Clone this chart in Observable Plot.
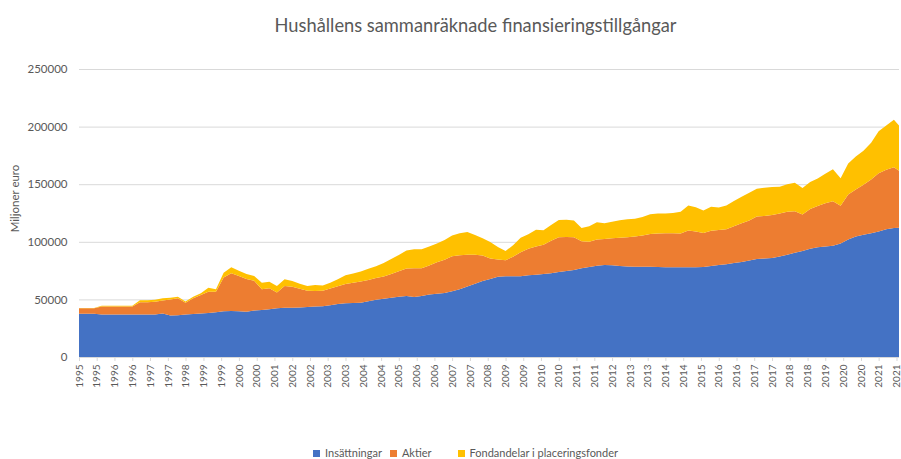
<!DOCTYPE html>
<html>
<head>
<meta charset="utf-8">
<script src="https://cdn.jsdelivr.net/npm/d3@7"></script>
<script src="https://cdn.jsdelivr.net/npm/@observablehq/plot@0.6"></script>
<style>
  html, body { margin: 0; padding: 0; background: #fff; }
  #wrap { width: 901px; height: 459px; overflow: hidden; font-family: Lato, "Open Sans", sans-serif; color: #595959; }
  #title { height: 50px; line-height: 50px; text-align: center; font-size: 18.3px; padding-left: 50px; box-sizing: border-box; }
  #legend { display: flex; justify-content: center; align-items: center; font-size: 11px; padding-top: 56px; padding-left: 30px; line-height: 14px; }
  #legend .item { display: flex; align-items: center; margin: 0 4px; }
  #legend .sw { width: 7px; height: 7px; margin-right: 5px; display: inline-block; }
  svg { display: block; }
</style>
</head>
<body>
<div id="wrap">
  <div id="title">Hushållens sammanräknade finansieringstillgångar</div>
  <div id="chart"></div>
  <div id="legend"></div>
</div>
<script>
const seriesNames = ["Insättningar", "Aktier", "Fondandelar i placeringsfonder"];
const seriesColors = ["#4472C4", "#ED7D31", "#FFC000"];
const yTicks = [0, 50000, 100000, 150000, 200000, 250000];
const yLabel = "Miljoner euro";

// Quarterly observations (Jan, Apr, Jul, Oct) 1995–2021, plus Dec 2021
const insattningar = [
  37500, 37500, 37500, 37000,
  37000, 37000, 37000, 37000,
  37000, 37000, 37000, 37800,
  36000, 36200, 36800, 37300,
  37800, 38200, 38800, 39800,
  40000, 39800, 39300, 40300,
  40800, 41500, 42300, 42700,
  42800, 43000, 43500, 43800,
  44000, 45000, 46000, 46700,
  46800, 47000, 48500, 49800,
  50500, 51500, 52200, 53000,
  52000, 53000, 54200, 55000,
  55600, 57000, 58800, 61300,
  63500, 66000, 67800, 69700,
  70000, 70000, 70000, 71000,
  71500, 72000, 72600, 73800,
  74700, 75600, 77000, 78200,
  79200, 79800, 79600, 79000,
  78600, 78400, 78300, 78300,
  78100, 77800, 77800, 77800,
  77800, 78000, 78200, 79000,
  79800, 80500, 81500, 82500,
  83800, 85000, 85500, 86000,
  87300, 88800, 90500, 92000,
  94000, 95300, 96000, 96600,
  98500, 102000, 104500, 106200,
  107500, 109000, 111000, 112000, 112200
];
const aktier = [
  4900, 4900, 4900, 6800,
  6800, 6800, 6800, 6800,
  10600, 10600, 11000, 11200,
  14000, 14800, 10400, 13700,
  16100, 18500, 17900, 29300,
  32600, 30500, 28400, 25900,
  18000, 18100, 13600, 18900,
  18200, 16300, 14100, 13500,
  13500, 14500, 15500, 16700,
  17700, 18500, 18300, 18700,
  19300, 20500, 22300, 23900,
  25000, 24000, 25300, 27200,
  28900, 30500, 29600, 27500,
  25300, 22000, 17700, 14900,
  14000, 17000, 21000, 23000,
  24500, 25500, 28400, 30200,
  29400, 28400, 23500, 21800,
  22800, 22700, 23400, 24500,
  25400, 26100, 27200, 28500,
  29200, 29700, 29700, 29500,
  32000, 31000, 29400, 30500,
  30500, 30500, 32000, 33500,
  34700, 36900, 37000, 37300,
  37200, 37200, 36000, 31700,
  34500, 35700, 37500, 38500,
  32900, 39000, 41000, 43300,
  46500, 50500, 51500, 52800, 49400
];
const fondandelar = [
  200, 200, 200, 700,
  700, 700, 700, 700,
  1700, 1700, 1800, 2000,
  1500, 1300, 900, 1400,
  1400, 3500, 2100, 4000,
  5200, 4500, 4300, 4100,
  5700, 5700, 5700, 5800,
  5000, 4200, 4000, 5200,
  4500, 5000, 6000, 7600,
  8000, 8800, 9700, 10300,
  11700, 13000, 14000, 15600,
  16500, 16500, 16500, 16300,
  17000, 18000, 19100, 19700,
  17200, 15000, 14300, 10900,
  8000, 10000, 12500, 12500,
  14500, 12500, 13500, 15000,
  15000, 14500, 11500, 13500,
  15000, 13500, 14500, 15200,
  15500, 15500, 16000, 17200,
  17300, 17000, 17500, 18700,
  21700, 21000, 19500, 21000,
  19500, 20500, 22000, 23000,
  24000, 24100, 24500, 24300,
  23300, 24000, 24800, 23000,
  23500, 24000, 25500, 27900,
  23800, 27000, 28500, 29500,
  32000, 36500, 38500, 41200, 39400
];

const start = new Date(Date.UTC(1995, 0, 1));
const end = new Date(Date.UTC(2021, 11, 1));
const dates = d3.utcMonths(start, new Date(Date.UTC(2021, 10, 1)), 3).concat([end]);
// category labels on the axis: every 7th month
const tickDates = d3.range(47).map(i => d3.utcMonth.offset(start, 7 * i));

const values = [insattningar, aktier, fondandelar];
const rows = [];
seriesNames.forEach((s, k) => {
  dates.forEach((d, i) => rows.push({date: d, series: s, value: values[k][i]}));
});

const chart = Plot.plot({
  width: 901,
  height: 340,
  marginLeft: 79,
  marginRight: 2,
  marginTop: 19,
  marginBottom: 33,
  style: {fontFamily: "Lato, 'Open Sans', sans-serif", color: "#595959", background: "#fff"},
  x: {type: "utc", domain: [start, end]},
  y: {domain: [0, 250000]},
  color: {domain: seriesNames, range: seriesColors},
  marks: [
    Plot.ruleY(yTicks, {stroke: "#D9D9D9", strokeWidth: 1}),
    Plot.areaY(rows, {x: "date", y: "value", z: "series", fill: "series", order: seriesNames, curve: "linear"}),
    Plot.ruleY([0], {stroke: "#D9D9D9", strokeWidth: 1}),
    Plot.axisY(yTicks, {tickSize: 0, tickPadding: 12, fontSize: 11.5, tickFormat: d => String(d), fill: "#595959", label: null}),
    Plot.axisX(tickDates, {tickRotate: -90, tickSize: 4, tickPadding: 3, fontSize: 10, tickFormat: d => String(d.getUTCFullYear()), stroke: "#D9D9D9", fill: "#595959", label: null}),
    Plot.text([yLabel], {frameAnchor: "left", textAnchor: "middle", rotate: -90, dx: -64, dy: -15, fontSize: 11.5, fill: "#595959"})
  ]
});
document.getElementById("chart").appendChild(chart);

const legend = document.getElementById("legend");
seriesNames.forEach((s, k) => {
  const item = document.createElement("span");
  item.className = "item";
  if (k === 2) item.style.marginLeft = "22px";
  const sw = document.createElement("span");
  sw.className = "sw";
  sw.style.background = seriesColors[k];
  item.appendChild(sw);
  item.appendChild(document.createTextNode(s));
  legend.appendChild(item);
});
</script>
</body>
</html>
